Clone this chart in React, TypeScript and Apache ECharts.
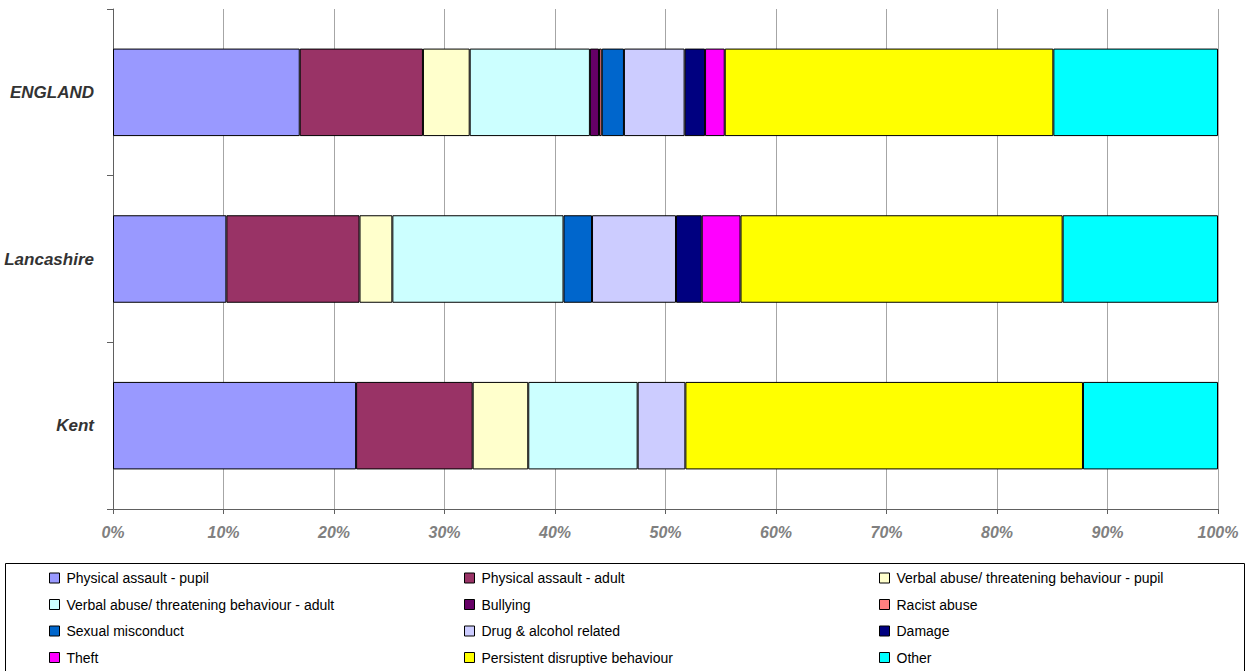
import React, { useEffect, useRef } from "react";
import * as echarts from "echarts";

// Regions shown on the category axis (top to bottom)
const regions = ["ENGLAND", "Lancashire", "Kent"];

// Reasons for exclusion, in stacking order
const reasons = [
  "Physical assault - pupil",
  "Physical assault - adult",
  "Verbal abuse/ threatening behaviour - pupil",
  "Verbal abuse/ threatening behaviour - adult",
  "Bullying",
  "Racist abuse",
  "Sexual misconduct",
  "Drug & alcohol related",
  "Damage",
  "Theft",
  "Persistent disruptive behaviour",
  "Other",
];

const reasonColors = [
  "#9999FF",
  "#993366",
  "#FFFFCC",
  "#CCFFFF",
  "#660066",
  "#FF8080",
  "#0066CC",
  "#CCCCFF",
  "#000080",
  "#FF00FF",
  "#FFFF00",
  "#00FFFF",
];

// Share of exclusions (%) by reason, one list per region
const englandShares = [16.9, 11.15, 4.23, 10.88, 0.82, 0.25, 2.01, 5.49, 1.85, 1.78, 29.74, 14.9];
const lancashireShares = [10.26, 12.05, 2.97, 15.49, 0, 0, 2.58, 7.6, 2.33, 3.51, 29.15, 14.06];
const kentShares = [22.0, 10.55, 5.03, 9.9, 0, 0, 0, 4.32, 0, 0, 35.98, 12.22];

const regionShares = [englandShares, lancashireShares, kentShares];

// Percentage axis ticks
const axisMin = 0;
const axisMax = 100;
const axisStep = 10;

// Legend laid out in three columns, filled row by row
const legendColumns = [0, 1, 2].map((c) =>
  reasons.filter((_, i) => i % 3 === c)
);
const legendColumnX = [49, 464, 879];

const FONT = 'Arial, "Liberation Sans", sans-serif';

export default function App() {
  const ref = useRef<HTMLDivElement>(null);

  useEffect(() => {
    if (!ref.current) return;
    const chart = echarts.init(ref.current, undefined, { renderer: "svg" });

    const series = reasons.map((name, k) => ({
      name,
      type: "bar",
      stack: "total",
      barWidth: "52.5%",
      itemStyle: {
        color: reasonColors[k],
        borderColor: "#000",
        borderWidth: 1,
      },
      emphasis: { disabled: true },
      data: regionShares.map((row) => (row[k] === 0 ? null : row[k])),
    }));

    chart.setOption({
      animation: false,
      backgroundColor: "#fff",
      textStyle: { fontFamily: FONT },
      grid: { left: 113, right: 30, top: 9, bottom: 162, containLabel: false },
      xAxis: {
        type: "value",
        min: axisMin,
        max: axisMax,
        interval: axisStep,
        axisLine: { show: true, lineStyle: { color: "#606060", width: 1 } },
        axisTick: { show: true, length: 5, lineStyle: { color: "#606060" } },
        splitLine: { show: true, lineStyle: { color: "#a6a6a6", width: 1 } },
        axisLabel: {
          formatter: "{value}%",
          color: "#808080",
          fontSize: 16,
          fontWeight: "bold",
          fontStyle: "italic",
          fontFamily: FONT,
          margin: 15,
        },
      },
      yAxis: {
        type: "category",
        data: regions,
        inverse: true,
        axisLine: { show: true, lineStyle: { color: "#606060", width: 1 } },
        axisTick: { show: true, length: 6, lineStyle: { color: "#606060" } },
        splitLine: { show: false },
        axisLabel: {
          color: "#333",
          fontSize: 17,
          fontWeight: "bold",
          fontStyle: "italic",
          fontFamily: FONT,
          margin: 19,
        },
      },
      legend: legendColumns.map((names, c) => ({
        orient: "vertical",
        left: legendColumnX[c],
        top: 570,
        padding: 0,
        itemGap: 10.5,
        itemWidth: 10,
        itemHeight: 10,
        icon: "rect",
        selectedMode: false,
        itemStyle: { borderColor: "#000", borderWidth: 1 },
        textStyle: {
          color: "#000",
          fontSize: 14,
          fontFamily: FONT,
          lineHeight: 16,
          padding: [0, 0, 0, 2],
        },
        data: names,
      })),
      graphic: [
        {
          type: "rect",
          shape: { x: 5.5, y: 563.5, width: 1239, height: 120 },
          style: { fill: "none", stroke: "#000", lineWidth: 1 },
          silent: true,
          z: -1,
        },
      ],
      series,
    });

    return () => chart.dispose();
  }, []);

  return (
    <div
      ref={ref}
      style={{ position: "fixed", left: 0, top: 0, width: 1248, height: 671 }}
    />
  );
}
